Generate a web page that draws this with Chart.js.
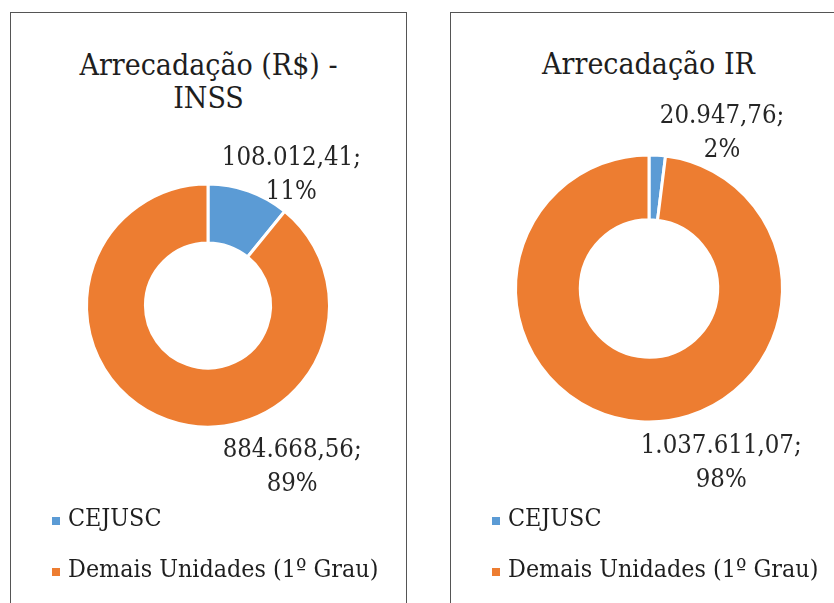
<!DOCTYPE html>
<html lang="pt-BR">
<head>
<meta charset="UTF-8">
<title>Arrecadação INSS e IR</title>
<style>
  html, body { margin: 0; padding: 0; background: #fff; overflow: hidden; }
  body { width: 834px; height: 603px; position: relative; font-family: "DejaVu Serif Condensed", "DejaVu Serif", serif; font-stretch: condensed; color: #1e1e1e; }
  .panel { position: absolute; border: 1.5px solid #555; box-sizing: border-box; }
  .title { position: absolute; left: 0; right: 0; text-align: center; font-size: 30px; line-height: 33px; }
  .legend { position: absolute; font-size: 24.8px; line-height: 51px; }
  .legend div { position: relative; white-space: nowrap; }
  .legend span.box { position: absolute; width: 8px; height: 8px; left: -16px; top: 25px; }
  canvas { position: absolute; }
</style>
</head>
<body>
<div class="panel" style="left:10px;top:12px;width:397px;height:640px;"></div>
<div class="panel" style="left:450px;top:12px;width:420px;height:640px;"></div>

<div class="title" id="titleInss" style="left:10px;width:397px;top:48px;"></div>
<div class="title" id="titleIr" style="left:450px;width:397px;top:47px;"></div>

<canvas id="chartInss" style="left:12px;top:14px;width:392px;height:589px;"></canvas>
<canvas id="chartIr" style="left:452px;top:15px;width:382px;height:588px;"></canvas>

<div class="legend" id="legendInss" style="left:68px;top:492px;"></div>
<div class="legend" id="legendIr" style="left:508px;top:492px;"></div>

<script src="https://cdn.jsdelivr.net/npm/chart.js"></script>
<script>
// dados
const categories = ['CEJUSC', 'Demais Unidades (1º Grau)'];
const inssValues = [108012.41, 884668.56];
const irValues = [20947.76, 1037611.07];
const inssTitle = ['Arrecadação (R$) -', 'INSS'];
const irTitle = ['Arrecadação IR'];
const sliceColors = ['#5B9BD5', '#ED7D31'];
const serifFont = '"DejaVu Serif Condensed", "DejaVu Serif", serif';

function fmtBR(v) {
    const parts = v.toFixed(2).split('.');
    const inteiro = parts[0].replace(/\B(?=(\d{3})+(?!\d))/g, '.');
    return inteiro + ',' + parts[1];
}

// rótulos de dados fora do anel (valor; percentual)
const labelPlugin = {
    id: 'rotulos',
    afterDatasetsDraw(chart, args, opts) {
        const ctx = chart.ctx;
        const meta = chart.getDatasetMeta(0);
        const data = chart.data.datasets[0].data;
        const total = data.reduce((a, b) => a + b, 0);
        ctx.save();
        ctx.font = 'condensed 25.5px ' + serifFont;
        ctx.fillStyle = '#262626';
        ctx.textAlign = 'center';
        ctx.textBaseline = 'middle';
        meta.data.forEach((arc, i) => {
            const a = opts.anchors[i];
            const ang = a.angle * Math.PI / 180;
            const r = arc.outerRadius * a.dist;
            const x = arc.x + r * Math.sin(ang);
            const y = arc.y - r * Math.cos(ang);
            const pct = Math.round(data[i] / total * 100) + '%';
            ctx.fillText(fmtBR(data[i]) + ';', x, y - 17);
            ctx.fillText(pct, x, y + 17);
        });
        ctx.restore();
    }
};

function makeDonut(id, values, radius, padding, anchors) {
    const ctx = document.getElementById(id).getContext('2d');
    return new Chart(ctx, {
        type: 'doughnut',
        data: {
            labels: categories,
            datasets: [{
                data: values,
                backgroundColor: sliceColors,
                borderColor: '#ffffff',
                borderWidth: 3,
                hoverOffset: 0
            }]
        },
        options: {
            responsive: false,
            animation: false,
            radius: radius,
            cutout: '51.5%',
            layout: { padding: padding },
            plugins: {
                legend: { display: false },
                title: { display: false },
                tooltip: { enabled: false },
                rotulos: { anchors: anchors }
            }
        },
        plugins: [labelPlugin]
    });
}

function fillTitle(id, lines) {
    document.getElementById(id).innerHTML = lines.join('<br>');
}
function fillLegend(id) {
    document.getElementById(id).innerHTML = categories.map((c, i) =>
        `<div><span class="box" style="background:${sliceColors[i]}"></span>${c}</div>`).join('');
}

function sizeCanvas(id) {
    const c = document.getElementById(id);
    c.width = parseInt(c.style.width);
    c.height = parseInt(c.style.height);
}

sizeCanvas('chartInss');
sizeCanvas('chartIr');
fillTitle('titleInss', inssTitle);
fillTitle('titleIr', irTitle);
fillLegend('legendInss');
fillLegend('legendIr');

makeDonut('chartInss', inssValues, 121.5,
    { left: 46, right: 46, top: 141.5, bottom: 147.5 },
    [{ angle: 32.7, dist: 1.27 }, { angle: 152.5, dist: 1.50 }]);
makeDonut('chartIr', irValues, 133.5,
    { left: 47, right: 35, top: 123.5, bottom: 164.5 },
    [{ angle: 25.2, dist: 1.285 }, { angle: 157.6, dist: 1.42 }]);
</script>
</body>
</html>
